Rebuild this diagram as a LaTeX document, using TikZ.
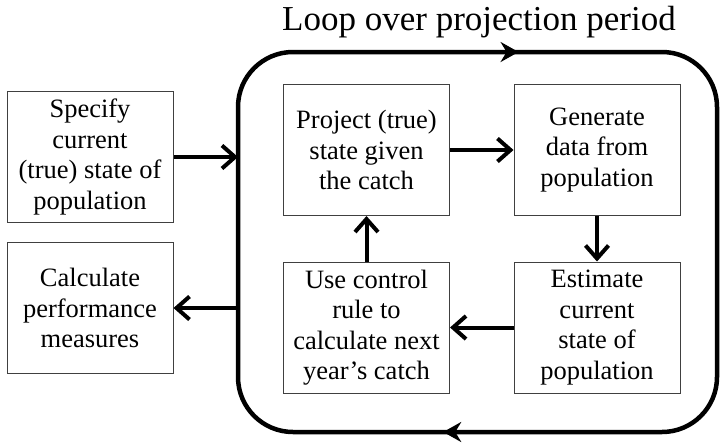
\documentclass[tikz,border=0pt]{standalone}
\usepackage{fontspec}
\setmainfont{Liberation Serif}
\usetikzlibrary{calc}
\usetikzlibrary{positioning}
\usetikzlibrary{arrows.meta}
\usetikzlibrary{decorations.markings}

\tikzset{
  stepbox/.style={draw=black!75, line width=1pt, minimum width=166pt, minimum height=131pt,
    inner sep=0pt, align=center, font=\fontsize{26.5}{30.5}\selectfont},
  flow/.style={line width=4pt, -{Straight Barb[length=13pt, width=23pt]}},
  loopline/.style={line width=4.5pt, line join=round},
  looptip/.tip={Stealth[length=18pt, width=20pt, inset=6pt]},
}

\begin{document}
\begin{tikzpicture}[x=1pt, y=-1pt]
  \useasboundingbox (0,0) rectangle (720,445);

  \node [anchor=base, font=\fontsize{35}{40}\selectfont] (title) at (479,30) {Loop over projection period};

  % the projection loop
  \coordinate (loopnw) at (238,52);
  \coordinate (loopse) at (717,432);
  \coordinate (loopstart) at (238,242);
  \draw [loopline, rounded corners=55pt, postaction={decorate},
  decoration={markings,
    mark=at position 392pt with {\arrow{looptip}},
    mark=at position 1197pt with {\arrow{looptip}}
  }] (loopstart) -- (loopnw) -- (loopnw -| loopse) -- (loopse) -- (loopse -| loopnw) -- cycle;

  % outside the loop
  \node [stepbox] (spec) at (90,157) {Specify\\current\\(true) state of\\population};
  \node [stepbox] (calc) at (90,308) {Calculate\\performance\\measures};

  % inside the loop
  \node [stepbox] (proj) at (366.5,150) {Project (true)\\state given\\the catch};
  \node [stepbox] (gen) at (597,150) {Generate\\data from\\population};
  \node [stepbox] (est) at (597,327.5) {Estimate\\current\\state of\\population};
  \node [stepbox] (use) at (366.5,327.5) {Use control\\rule to\\calculate next\\year's catch};

  \draw [flow] (spec.east) -- (spec.east -| loopnw);
  \draw [flow] (calc.east -| loopnw) -- (calc.east);

  \draw [flow] (proj) -- (gen);
  \draw [flow] (gen) -- (est);
  \draw [flow] (est) -- (use);
  \draw [flow] (use) -- (proj);

\end{tikzpicture}
\end{document}
